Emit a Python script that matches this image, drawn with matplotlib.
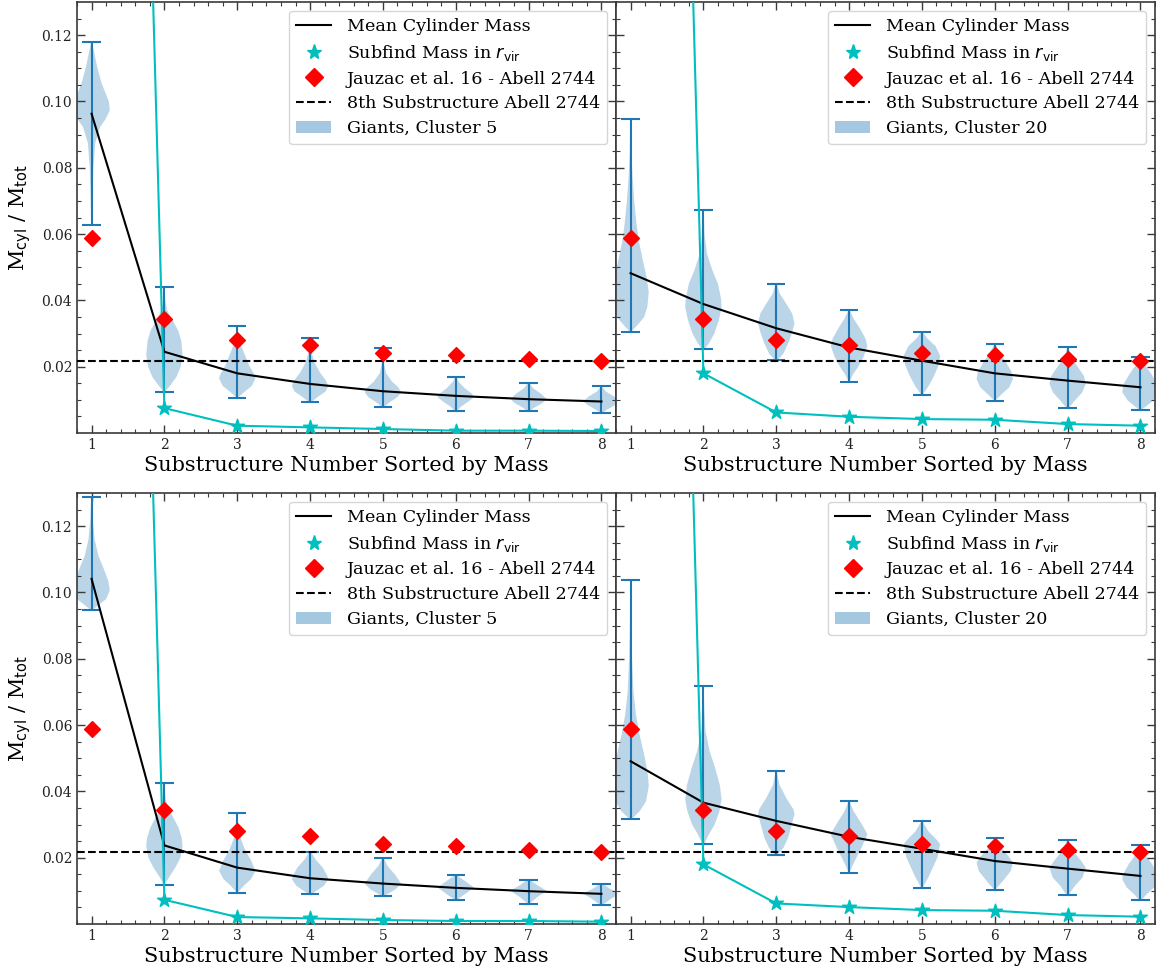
import matplotlib
matplotlib.use("Agg")
import matplotlib.pyplot as plt
from matplotlib.patches import Patch
from matplotlib.lines import Line2D
import numpy as np

plt.rcParams['font.family'] = ['DejaVu Serif']
plt.rcParams['mathtext.fontset'] = 'dejavusans'

substructure = [1, 2, 3, 4, 5, 6, 7, 8]
jauzac = [0.0589, 0.0343, 0.0282, 0.0265, 0.0240, 0.0234, 0.0223, 0.0218]
abell_8th = 0.0218

panel_names = ["Giants, Cluster 5", "Giants, Cluster 20",
               "Giants, Cluster 5", "Giants, Cluster 20"]

# ---- mean cylinder mass ----
mean_tl = [0.0963, 0.0245, 0.0180, 0.0148, 0.0126, 0.0112, 0.0102, 0.0095]
mean_tr = [0.0482, 0.0389, 0.0316, 0.0258, 0.0218, 0.0180, 0.0158, 0.0138]
mean_bl = [0.1041, 0.0237, 0.0170, 0.0138, 0.0122, 0.0109, 0.0099, 0.0091]
mean_br = [0.0491, 0.0366, 0.0311, 0.0263, 0.0227, 0.0190, 0.0167, 0.0145]

# ---- subfind mass in r_vir ----
subfind_tl = [0.80, 0.0075, 0.0022, 0.0017, 0.0012, 0.0007, 0.0007, 0.0006]
subfind_tr = [0.82, 0.0180, 0.0062, 0.0049, 0.0042, 0.0040, 0.0027, 0.0022]
subfind_bl = [0.80, 0.0073, 0.0021, 0.0017, 0.0012, 0.0009, 0.0009, 0.0007]
subfind_br = [0.82, 0.0180, 0.0062, 0.0051, 0.0042, 0.0040, 0.0027, 0.0022]

# ---- violin minima / maxima ----
min_tl = [0.0628, 0.0125, 0.0107, 0.0093, 0.0077, 0.0065, 0.0065, 0.0060]
max_tl = [0.1180, 0.0440, 0.0324, 0.0286, 0.0255, 0.0170, 0.0152, 0.0141]
min_tr = [0.0306, 0.0252, 0.0220, 0.0155, 0.0115, 0.0098, 0.0074, 0.0070]
max_tr = [0.0947, 0.0673, 0.0450, 0.0371, 0.0306, 0.0268, 0.0260, 0.0230]
min_bl = [0.0947, 0.0119, 0.0095, 0.0089, 0.0084, 0.0072, 0.0061, 0.0056]
max_bl = [0.1288, 0.0424, 0.0334, 0.0217, 0.0200, 0.0147, 0.0134, 0.0122]
min_br = [0.0316, 0.0240, 0.0207, 0.0155, 0.0109, 0.0104, 0.0086, 0.0071]
max_br = [0.1039, 0.0717, 0.0460, 0.0370, 0.0310, 0.0259, 0.0253, 0.0239]

# ---- violin outlines: (value, relative width) ----
shape_tl = [
    [(0.118, 0.02), (0.116, 0.10), (0.1106, 0.30), (0.1055, 0.55), (0.100, 0.95), (0.0973, 1.0), (0.0945, 0.75), (0.0923, 0.47), (0.0874, 0.20), (0.080, 0.10), (0.070, 0.05), (0.0628, 0.02)],
    [(0.044, 0.02), (0.040, 0.05), (0.037, 0.15), (0.034, 0.45), (0.031, 0.75), (0.028, 0.92), (0.0235, 1.0), (0.020, 0.90), (0.0168, 0.65), (0.0142, 0.30), (0.0125, 0.05)],
    [(0.0324, 0.02), (0.030, 0.05), (0.0273, 0.15), (0.0245, 0.35), (0.0204, 0.65), (0.018, 0.90), (0.0165, 1.0), (0.0142, 0.80), (0.0122, 0.35), (0.0107, 0.05)],
    [(0.0286, 0.02), (0.0243, 0.08), (0.0212, 0.25), (0.0182, 0.55), (0.016, 0.85), (0.0142, 1.0), (0.0125, 0.85), (0.0112, 0.50), (0.0093, 0.05)],
    [(0.0255, 0.02), (0.021, 0.06), (0.018, 0.18), (0.0155, 0.50), (0.0138, 0.85), (0.0123, 1.0), (0.0108, 0.80), (0.0092, 0.35), (0.0077, 0.03)],
    [(0.017, 0.03), (0.0155, 0.15), (0.0135, 0.50), (0.0118, 0.90), (0.0108, 1.0), (0.0095, 0.70), (0.008, 0.30), (0.0065, 0.03)],
    [(0.0152, 0.03), (0.0135, 0.25), (0.0118, 0.70), (0.0102, 1.0), (0.009, 0.75), (0.0076, 0.30), (0.0065, 0.03)],
    [(0.0141, 0.03), (0.0125, 0.25), (0.011, 0.70), (0.0096, 1.0), (0.0084, 0.75), (0.0070, 0.30), (0.0060, 0.03)],
]
shape_tr = [
    [(0.0947, 0.02), (0.085, 0.05), (0.078, 0.10), (0.070, 0.20), (0.063, 0.33), (0.058, 0.45), (0.052, 0.68), (0.047, 0.88), (0.0425, 1.0), (0.038, 0.92), (0.035, 0.75), (0.033, 0.45), (0.0306, 0.05)],
    [(0.0673, 0.02), (0.060, 0.06), (0.054, 0.20), (0.049, 0.50), (0.045, 0.80), (0.0405, 0.97), (0.038, 1.0), (0.034, 0.85), (0.030, 0.60), (0.027, 0.30), (0.0252, 0.05)],
    [(0.045, 0.03), (0.042, 0.20), (0.039, 0.55), (0.036, 0.88), (0.033, 1.0), (0.030, 0.85), (0.027, 0.65), (0.024, 0.40), (0.022, 0.08)],
    [(0.0371, 0.03), (0.0345, 0.25), (0.0315, 0.60), (0.0285, 0.90), (0.0262, 1.0), (0.023, 0.80), (0.020, 0.50), (0.0175, 0.20), (0.0155, 0.03)],
    [(0.0306, 0.03), (0.0285, 0.30), (0.0262, 0.75), (0.0233, 1.0), (0.0205, 0.92), (0.017, 0.65), (0.014, 0.35), (0.0115, 0.04)],
    [(0.0268, 0.03), (0.0245, 0.25), (0.0215, 0.60), (0.0185, 0.92), (0.0163, 1.0), (0.0138, 0.80), (0.0118, 0.40), (0.0098, 0.04)],
    [(0.026, 0.02), (0.023, 0.15), (0.020, 0.55), (0.0172, 0.90), (0.0148, 1.0), (0.0122, 0.80), (0.0098, 0.40), (0.0074, 0.04)],
    [(0.023, 0.03), (0.0205, 0.25), (0.0178, 0.60), (0.0148, 0.92), (0.0123, 1.0), (0.0098, 0.70), (0.0080, 0.30), (0.0070, 0.05)],
]
shape_bl = [
    [(0.1288, 0.02), (0.122, 0.07), (0.116, 0.17), (0.111, 0.38), (0.107, 0.68), (0.1035, 0.92), (0.1006, 1.0), (0.098, 0.80), (0.0965, 0.45), (0.0947, 0.05)],
    [(0.0424, 0.02), (0.038, 0.06), (0.035, 0.20), (0.032, 0.50), (0.029, 0.78), (0.026, 0.95), (0.0235, 1.0), (0.020, 0.88), (0.017, 0.60), (0.0145, 0.30), (0.0119, 0.03)],
    [(0.0334, 0.02), (0.029, 0.06), (0.026, 0.18), (0.0225, 0.42), (0.019, 0.78), (0.016, 1.0), (0.0135, 0.75), (0.0115, 0.35), (0.0095, 0.03)],
    [(0.0217, 0.05), (0.0195, 0.30), (0.017, 0.70), (0.0145, 0.95), (0.0135, 1.0), (0.0115, 0.75), (0.010, 0.35), (0.0089, 0.04)],
    [(0.020, 0.04), (0.0175, 0.25), (0.015, 0.65), (0.0122, 1.0), (0.0105, 0.70), (0.0092, 0.30), (0.0084, 0.04)],
    [(0.0147, 0.05), (0.0132, 0.45), (0.011, 1.0), (0.0092, 0.55), (0.0072, 0.04)],
    [(0.0134, 0.05), (0.0118, 0.45), (0.0100, 1.0), (0.0082, 0.50), (0.0061, 0.04)],
    [(0.0122, 0.05), (0.0107, 0.45), (0.0092, 1.0), (0.0075, 0.50), (0.0056, 0.04)],
]
shape_br = [
    [(0.1039, 0.02), (0.090, 0.04), (0.080, 0.08), (0.070, 0.16), (0.063, 0.30), (0.057, 0.50), (0.051, 0.75), (0.046, 0.93), (0.0416, 1.0), (0.037, 0.85), (0.034, 0.50), (0.0316, 0.05)],
    [(0.0717, 0.02), (0.065, 0.05), (0.058, 0.12), (0.052, 0.35), (0.047, 0.65), (0.042, 0.90), (0.0376, 1.0), (0.034, 0.88), (0.030, 0.62), (0.027, 0.30), (0.024, 0.04)],
    [(0.046, 0.03), (0.042, 0.18), (0.038, 0.55), (0.0345, 0.95), (0.0331, 1.0), (0.029, 0.80), (0.026, 0.65), (0.023, 0.40), (0.0207, 0.05)],
    [(0.037, 0.03), (0.034, 0.25), (0.031, 0.60), (0.028, 0.92), (0.027, 1.0), (0.023, 0.68), (0.020, 0.40), (0.0175, 0.18), (0.0155, 0.03)],
    [(0.031, 0.03), (0.028, 0.35), (0.025, 0.88), (0.024, 1.0), (0.020, 0.85), (0.017, 0.60), (0.014, 0.35), (0.0109, 0.03)],
    [(0.0259, 0.04), (0.023, 0.35), (0.0205, 0.75), (0.0185, 1.0), (0.016, 0.88), (0.013, 0.45), (0.0104, 0.04)],
    [(0.0253, 0.03), (0.022, 0.30), (0.019, 0.75), (0.017, 1.0), (0.014, 0.82), (0.0115, 0.40), (0.0086, 0.04)],
    [(0.0239, 0.03), (0.021, 0.25), (0.018, 0.65), (0.015, 0.95), (0.0135, 1.0), (0.011, 0.75), (0.009, 0.35), (0.0071, 0.04)],
]

panels = [
    (mean_tl, subfind_tl, min_tl, max_tl, shape_tl),
    (mean_tr, subfind_tr, min_tr, max_tr, shape_tr),
    (mean_bl, subfind_bl, min_bl, max_bl, shape_bl),
    (mean_br, subfind_br, min_br, max_br, shape_br),
]

W, H = 1156, 973
fig = plt.figure(figsize=(W / 100, H / 100), dpi=100)
x0, xm, x1 = 77 / W, 616 / W, 1155 / W
rows = [(1 - 433 / H, 1 - 2 / H), (1 - 924 / H, 1 - 493 / H)]
boxes = []
for (b, t) in rows:
    boxes.append([x0, b, xm - x0, t - b])
    boxes.append([xm, b, x1 - xm, t - b])

edge = '#3a3a3a'
c0 = '#1f77b4'
for i, (box, (mean, sub, mins, maxs, shapes)) in enumerate(zip(boxes, panels)):
    ax = fig.add_axes(box)
    stats = []
    for k in range(8):
        pts = sorted(shapes[k], key=lambda p: p[0])
        stats.append(dict(coords=np.array([p[0] for p in pts]),
                          vals=np.array([p[1] for p in pts]),
                          mean=mean[k], median=mean[k],
                          min=mins[k], max=maxs[k]))
    vp = ax.violin(stats, positions=substructure, widths=0.5,
                   showmeans=False, showextrema=True, showmedians=False)
    for body in vp['bodies']:
        body.set_facecolor(c0)
        body.set_edgecolor('none')
        body.set_alpha(0.3)
    for key in ('cbars', 'cmins', 'cmaxes'):
        vp[key].set_color(c0)
        vp[key].set_linewidth(1.5)

    ax.plot(substructure, mean, color='black', lw=1.5, zorder=4)
    ax.axhline(abell_8th, color='black', ls='--', lw=1.5, zorder=4)
    ax.plot(substructure, sub, color='c', lw=1.5, zorder=5)
    ax.scatter(substructure, sub, marker='*', s=110, color='c', zorder=6)
    ax.scatter(substructure, jauzac, marker='D', s=65, color='red', zorder=7)

    ax.set_xlim(0.8, 8.2)
    ax.set_ylim(0.0, 0.13)
    ax.set_xticks(substructure)
    ax.set_xticks(np.arange(0.8, 8.21, 0.2), minor=True)
    ax.set_yticks([0.02, 0.04, 0.06, 0.08, 0.10, 0.12])
    ax.set_yticks(np.arange(0.005, 0.13, 0.005), minor=True)
    ax.tick_params(which='both', direction='in', top=True, right=True,
                   color=edge, labelsize=10, labelcolor='#222222')
    ax.tick_params(which='major', length=6, width=1.0)
    ax.tick_params(which='minor', length=3, width=0.8)
    for s in ax.spines.values():
        s.set_color(edge)
        s.set_linewidth(1.2)
    ax.set_xlabel('Substructure Number Sorted by Mass', fontsize=15, labelpad=3)
    if i % 2 == 0:
        ax.set_ylabel(r'M$_{\rm cyl}$ / M$_{\rm tot}$', fontsize=15, labelpad=6)
    else:
        ax.set_yticklabels([])

    handles = [
        Line2D([], [], color='black', lw=1.5),
        Line2D([], [], color='c', marker='*', ls='none', markersize=11),
        Line2D([], [], color='red', marker='D', ls='none', markersize=9),
        Line2D([], [], color='black', ls='--', lw=1.5),
        Patch(facecolor=c0, alpha=0.4, edgecolor='none'),
    ]
    labels = ['Mean Cylinder Mass', r'Subfind Mass in $r_{\rm vir}$',
              'Jauzac et al. 16 - Abell 2744', '8th Substructure Abell 2744',
              panel_names[i]]
    ax.legend(handles, labels, loc='upper right', fontsize=12.6,
              labelspacing=0.45, handlelength=2.0, handletextpad=0.9,
              borderaxespad=0.5)

fig.savefig('out.png', dpi=100)
